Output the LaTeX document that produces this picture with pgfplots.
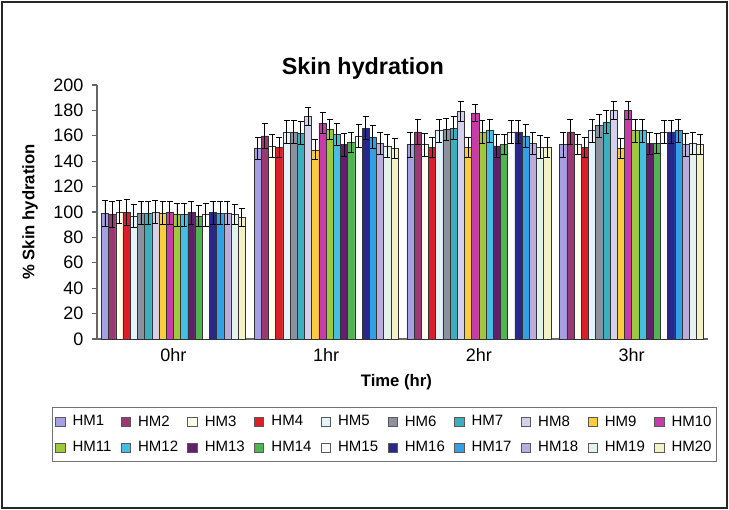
\documentclass[border=0pt]{standalone}
\usepackage{pgfplots}
\pgfplotsset{compat=1.18}
\usepackage{pgfplotstable}
\usepackage{fontspec}
\setmainfont{Liberation Sans}

\definecolor{c1}{RGB}{165,160,228}
\definecolor{c2}{RGB}{155,55,115}
\definecolor{c3}{RGB}{255,253,235}
\definecolor{c4}{RGB}{220,30,40}
\definecolor{c5}{RGB}{228,242,250}
\definecolor{c6}{RGB}{140,145,160}
\definecolor{c7}{RGB}{60,175,190}
\definecolor{c8}{RGB}{212,208,238}
\definecolor{c9}{RGB}{250,205,60}
\definecolor{c10}{RGB}{200,60,170}
\definecolor{c11}{RGB}{160,200,60}
\definecolor{c12}{RGB}{70,190,228}
\definecolor{c13}{RGB}{100,30,110}
\definecolor{c14}{RGB}{80,180,80}
\definecolor{c15}{RGB}{252,252,252}
\definecolor{c16}{RGB}{40,40,140}
\definecolor{c17}{RGB}{50,160,228}
\definecolor{c18}{RGB}{188,172,222}
\definecolor{c19}{RGB}{228,242,236}
\definecolor{c20}{RGB}{242,242,198}

\pgfplotstableread{
x v1 e1 v2 e2 v3 e3 v4 e4 v5 e5 v6 e6 v7 e7 v8 e8 v9 e9 v10 e10 v11 e11 v12 e12 v13 e13 v14 e14 v15 e15 v16 e16 v17 e17 v18 e18 v19 e19 v20 e20
0 99 10 98 10 100 9 99.5 10 97 9 99 9 99 9 100 9 99 9 99.5 9 98 9 98 9 99.5 9 97 8 98 9 99.5 9 99 9 99 9 98 8 96 7
1 150 9 160 10 152 9 151 8 163 9 163 9 162 9 175 7 149 8 170 8 165 8 161 9 153 9 155 8 160 9 166 9 159 9 154 9 152 9 150 8
2 153 10 163 10 153 9 151 8 164 9 165 9 166 9 179 8 151 8 178 7 163 9 164 9 152 9 153 8 163 9 163 9 160 9 154 9 151 9 151 8
3 153 10 163 10 153 8 151 8 164 9 168 9 171 9 180 7 150 8 180 7 164 9 164 9 154 9 154 8 163 9 163 9 164 9 153 9 154 9 153 8
}\data

\pgfplotsset{sqleg/.style={legend image code/.code={\draw[##1,line width=0.5pt,draw=black!65] (0pt,-3.6pt) rectangle (7pt,3.4pt);}}}

\begin{document}
\begin{tikzpicture}
\path (0,0) rectangle (546.75pt,-382.5pt);
\draw[black!85,line width=1pt] (1.5pt,-1.5pt) rectangle (545.25pt,-381pt);
\begin{axis}[
  at={(72.75pt,-254.25pt)}, anchor=south west,
  scale only axis, width=458.25pt, height=190.5pt,
  ybar=0pt, bar width=5.4pt,
  xmin=-0.5, xmax=3.5, ymin=0, ymax=200,
  axis x line*=bottom, axis y line*=left,
  axis line style={black!60, line width=0.8pt},
  tick align=outside,
  major tick length=3.75pt,
  tick style={black!60, line width=0.8pt},
  ytick={0,20,...,200},
  xtick={0,1,2,3}, xticklabels={0hr,1hr,2hr,3hr},
  major x tick style={draw=none},
  extra x ticks={-0.5,0.5,1.5,2.5,3.5}, extra x tick labels={},
  extra x tick style={major tick length=3.75pt, tick style={draw=black!60}},
  /pgf/number format/assume math mode=true,
  tick label style={font=\fontsize{13.5}{15}\selectfont},
  yticklabel style={xshift=-3pt},
  xticklabel style={yshift=0pt},
  xlabel={Time (hr)}, ylabel={\% Skin hydration},
  label style={font=\bfseries\fontsize{12.5}{14}\selectfont},
  xlabel style={at={(axis description cs:0.49,-0.169)}, anchor=center},
  ylabel style={at={(axis description cs:-0.1097,0.5)}, anchor=center, rotate=0},
  title={Skin hydration},
  title style={font=\bfseries\fontsize{17.5}{20}\selectfont, at={(axis description cs:0.435,1.032)}, anchor=center, yshift=0pt},
  error bars/y dir=both, error bars/y explicit,
  error bars/error bar style={black, line width=0.7pt},
  error bars/error mark options={rotate=90, mark size=2.25pt, black, line width=0.7pt},
  legend columns=10,
  legend style={at={(axis description cs:-0.0736,-0.2677)}, anchor=north west,
    draw=black!55, line width=0.8pt, inner xsep=2pt, inner ysep=4pt, row sep=6pt,
    font=\fontsize{11.25}{13}\selectfont,
    /tikz/every odd column/.append style={column sep=3.5pt},
    /tikz/every even column/.append style={column sep=5pt}},
  legend cell align=left,
]
\addplot[fill=c1, draw=black!80, sqleg] table[x=x, y=v1, y error=e1]{\data};
\addplot[fill=c2, draw=black!80, sqleg] table[x=x, y=v2, y error=e2]{\data};
\addplot[fill=c3, draw=black!80, sqleg] table[x=x, y=v3, y error=e3]{\data};
\addplot[fill=c4, draw=black!80, sqleg] table[x=x, y=v4, y error=e4]{\data};
\addplot[fill=c5, draw=black!80, sqleg] table[x=x, y=v5, y error=e5]{\data};
\addplot[fill=c6, draw=black!80, sqleg] table[x=x, y=v6, y error=e6]{\data};
\addplot[fill=c7, draw=black!80, sqleg] table[x=x, y=v7, y error=e7]{\data};
\addplot[fill=c8, draw=black!80, sqleg] table[x=x, y=v8, y error=e8]{\data};
\addplot[fill=c9, draw=black!80, sqleg] table[x=x, y=v9, y error=e9]{\data};
\addplot[fill=c10, draw=black!80, sqleg] table[x=x, y=v10, y error=e10]{\data};
\addplot[fill=c11, draw=black!80, sqleg] table[x=x, y=v11, y error=e11]{\data};
\addplot[fill=c12, draw=black!80, sqleg] table[x=x, y=v12, y error=e12]{\data};
\addplot[fill=c13, draw=black!80, sqleg] table[x=x, y=v13, y error=e13]{\data};
\addplot[fill=c14, draw=black!80, sqleg] table[x=x, y=v14, y error=e14]{\data};
\addplot[fill=c15, draw=black!80, sqleg] table[x=x, y=v15, y error=e15]{\data};
\addplot[fill=c16, draw=black!80, sqleg] table[x=x, y=v16, y error=e16]{\data};
\addplot[fill=c17, draw=black!80, sqleg] table[x=x, y=v17, y error=e17]{\data};
\addplot[fill=c18, draw=black!80, sqleg] table[x=x, y=v18, y error=e18]{\data};
\addplot[fill=c19, draw=black!80, sqleg] table[x=x, y=v19, y error=e19]{\data};
\addplot[fill=c20, draw=black!80, sqleg] table[x=x, y=v20, y error=e20]{\data};
\legend{HM1,HM2,HM3,HM4,HM5,HM6,HM7,HM8,HM9,HM10,HM11,HM12,HM13,HM14,HM15,HM16,HM17,HM18,HM19,HM20}
\end{axis}
\end{tikzpicture}
\end{document}
